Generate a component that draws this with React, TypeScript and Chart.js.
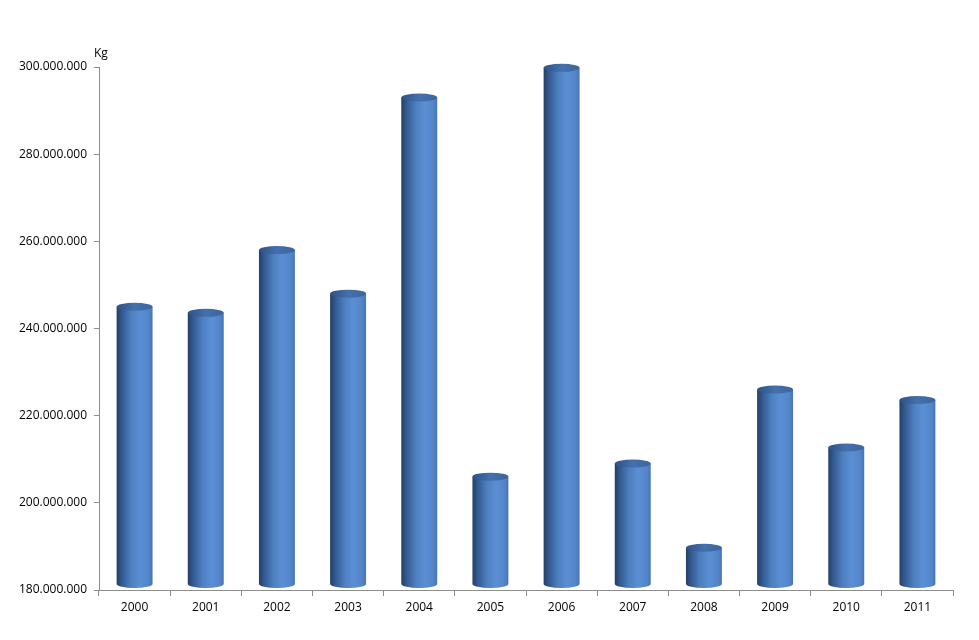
import React, { useEffect, useRef } from "react";
import { Chart, registerables } from "chart.js";

Chart.register(...registerables);

const categories = ["2000", "2001", "2002", "2003", "2004", "2005", "2006", "2007", "2008", "2009", "2010", "2011"];
const values = [245000000, 243600000, 258000000, 248000000, 293000000, 206000000, 299800000, 209000000, 189700000, 226000000, 212700000, 223600000];
const yMin = 180000000;
const yMax = 300000000;
const yStep = 20000000;
const unitLabel = "Kg";

const FONT = "'Open Sans', 'Liberation Sans', sans-serif";

const cylinderPlugin = {
  id: "cylinders",
  afterDatasetsDraw(chart: any) {
    const ctx = chart.ctx as CanvasRenderingContext2D;
    const meta = chart.getDatasetMeta(0);
    const floor = chart.scales.y.getPixelForValue(yMin);
    const ry = 4;
    meta.data.forEach((el: any) => {
      const { x, y, width } = el.getProps(["x", "y", "width"], true);
      const l = x - width / 2;
      const r = x + width / 2;
      const rx = width / 2;
      const bottomC = floor - 6;
      const g = ctx.createLinearGradient(l, 0, r, 0);
      g.addColorStop(0, "#233f66");
      g.addColorStop(0.15, "#345a92");
      g.addColorStop(0.4, "#4d7fc0");
      g.addColorStop(0.65, "#5b8fd4");
      g.addColorStop(0.9, "#5284c8");
      g.addColorStop(1, "#4674b3");
      ctx.save();
      ctx.beginPath();
      ctx.moveTo(l, y);
      ctx.lineTo(l, bottomC);
      ctx.ellipse(x, bottomC, rx, ry, 0, Math.PI, 0, true);
      ctx.lineTo(r, y);
      ctx.closePath();
      ctx.fillStyle = g;
      ctx.fill();
      const tg = ctx.createLinearGradient(l, 0, r, 0);
      tg.addColorStop(0, "#2e5286");
      tg.addColorStop(0.5, "#4470ab");
      tg.addColorStop(1, "#3c659f");
      ctx.beginPath();
      ctx.ellipse(x, y, rx, ry, 0, 0, Math.PI * 2);
      ctx.fillStyle = tg;
      ctx.fill();
      ctx.restore();
    });
  },
  afterDraw(chart: any) {
    const ctx = chart.ctx as CanvasRenderingContext2D;
    const { left, top } = chart.chartArea;
    ctx.save();
    ctx.fillStyle = "#000";
    ctx.font = `12px ${FONT}`;
    ctx.textAlign = "left";
    ctx.textBaseline = "middle";
    ctx.fillText(unitLabel, left - 5, top - 13);
    ctx.restore();
  },
};

export default function App() {
  const ref = useRef<HTMLCanvasElement | null>(null);
  useEffect(() => {
    if (!ref.current) return;
    const chart = new Chart(ref.current, {
      type: "bar",
      data: {
        labels: categories,
        datasets: [
          {
            data: values,
            backgroundColor: "rgba(0,0,0,0)",
            borderWidth: 0,
            barPercentage: 0.505,
            categoryPercentage: 1,
          },
        ],
      },
      options: {
        animation: false,
        responsive: false,
        maintainAspectRatio: false,
        layout: { padding: { left: 0, right: 26, top: 67, bottom: 0 } },
        plugins: { legend: { display: false }, tooltip: { enabled: false } },
        scales: {
          x: {
            offset: true,
            grid: { display: true, offset: true, drawOnChartArea: false, drawTicks: true, tickLength: 6, color: "#8c8c8c" },
            border: { display: true, color: "#8c8c8c" },
            ticks: { color: "#000", font: { family: FONT, size: 12 }, padding: 4 },
            afterFit: (s: any) => { s.height = 50; },
          },
          y: {
            min: yMin,
            max: yMax,
            grid: { display: true, drawOnChartArea: false, drawTicks: true, tickLength: 5, color: "#8c8c8c" },
            border: { display: true, color: "#8c8c8c" },
            ticks: {
              stepSize: yStep,
              color: "#000",
              font: { family: FONT, size: 12 },
              padding: 7,
              callback: (v: any) => Number(v).toLocaleString("en-US").replace(/,/g, "."),
            },
            afterFit: (s: any) => { s.width = 99; },
          },
        },
      },
      plugins: [cylinderPlugin],
    });
    return () => chart.destroy();
  }, []);
  return (
    <div style={{ position: "fixed", left: 0, top: 0, width: 979, height: 640, background: "#fff" }}>
      <canvas ref={ref} width={979} height={640} style={{ width: 979, height: 640 }} />
    </div>
  );
}
